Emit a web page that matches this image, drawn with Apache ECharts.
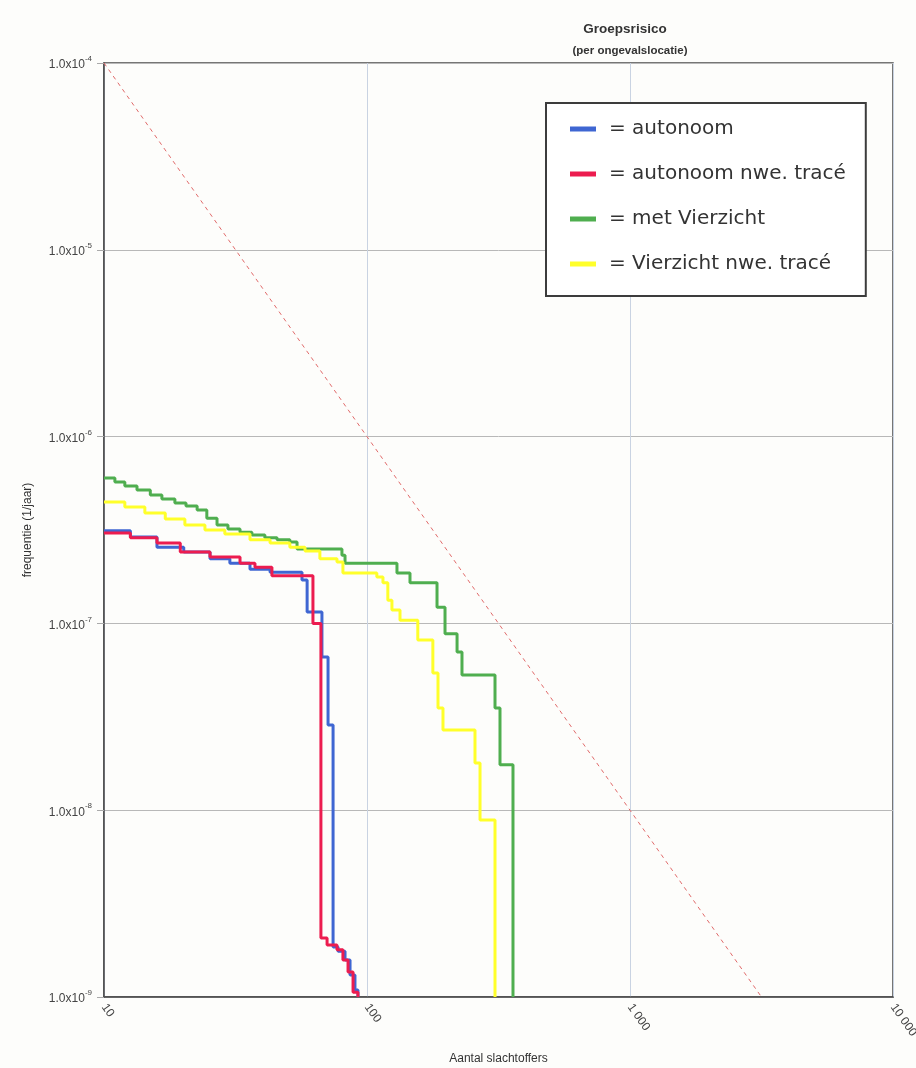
<!DOCTYPE html>
<html>
<head>
<meta charset="utf-8">
<script src="https://cdn.jsdelivr.net/npm/echarts@6/dist/echarts.min.js"></script>
<style>
html,body{margin:0;padding:0;background:#fdfdfb;}
#chart{width:916px;height:1068px;}
</style>
</head>
<body>
<div id="chart"></div>
<script>
// ---- data ----
const titleText = 'Groepsrisico';
const subtitleText = '(per ongevalslocatie)';
const xAxisName = 'Aantal slachtoffers';
const yAxisName = 'frequentie (1/jaar)';
const seriesNames = ['autonoom', 'autonoom nwe. tracé', 'met Vierzicht', 'Vierzicht nwe. tracé'];
const xTickValues = [10, 100, 1000, 10000];
const xTickLabels = ['10', '100', '1 000', '10 000'];
const yTickExponents = [-9, -8, -7, -6, -5, -4];

const autonoomN = [10, 12.6, 15.9, 20.1, 25.3, 30.1, 35.9, 42.8, 56.6, 59.2, 67.4, 71.1, 74.3, 77.6, 82.5, 86.2, 90.0, 92.4];
const autonoomF = [3.13e-7, 2.90e-7, 2.56e-7, 2.41e-7, 2.22e-7, 2.10e-7, 1.95e-7, 1.88e-7, 1.71e-7, 1.15e-7, 6.61e-8, 2.86e-8, 1.85e-9, 1.76e-9, 1.58e-9, 1.31e-9, 1.09e-9, 1e-9];

const autonoomNweN = [10, 12.6, 15.9, 19.5, 25.3, 32.9, 37.5, 43.5, 62.3, 66.8, 70.5, 76.9, 81.0, 84.7, 88.5, 92.4];
const autonoomNweF = [3.05e-7, 2.87e-7, 2.69e-7, 2.41e-7, 2.27e-7, 2.10e-7, 2.00e-7, 1.80e-7, 1.00e-7, 2.07e-9, 1.90e-9, 1.79e-9, 1.58e-9, 1.36e-9, 1.06e-9, 1e-9];

const metVierzichtN = [10, 11.0, 12.0, 13.35, 15.0, 16.6, 18.6, 20.5, 22.6, 24.6, 26.9, 29.6, 32.9, 36.5, 40.9, 45.5, 50.9, 54.2, 80.3, 82.5, 130, 145.7, 184.6, 198, 220, 229.7, 306.7, 320.4, 359];
const metVierzichtF = [6.0e-7, 5.71e-7, 5.44e-7, 5.18e-7, 4.87e-7, 4.63e-7, 4.41e-7, 4.25e-7, 4.05e-7, 3.66e-7, 3.36e-7, 3.20e-7, 3.08e-7, 2.97e-7, 2.87e-7, 2.80e-7, 2.73e-7, 2.50e-7, 2.32e-7, 2.10e-7, 1.86e-7, 1.65e-7, 1.22e-7, 8.8e-8, 7.03e-8, 5.29e-8, 3.52e-8, 1.75e-8, 1e-9];

const vierzichtNweN = [10, 12.0, 14.3, 17.1, 20.3, 24.2, 28.8, 35.9, 42.8, 50.9, 58.1, 66.2, 76.9, 81.0, 109, 115, 120, 124.4, 133.5, 156, 178, 186.2, 194.5, 257.4, 269, 306.7];
const vierzichtNweF = [4.47e-7, 4.20e-7, 3.90e-7, 3.62e-7, 3.36e-7, 3.16e-7, 3.01e-7, 2.80e-7, 2.69e-7, 2.56e-7, 2.44e-7, 2.22e-7, 2.13e-7, 1.86e-7, 1.77e-7, 1.65e-7, 1.33e-7, 1.18e-7, 1.04e-7, 8.15e-8, 5.43e-8, 3.52e-8, 2.69e-8, 1.79e-8, 8.87e-9, 1e-9];

const normLineN = [10, 3162];
const normLineF = [1e-4, 1e-9];

const colors = ['#3f66d2', '#ec1c4f', '#4fae4f', '#ffff2a'];

function zip(a, b) { return a.map((v, i) => [v, b[i]]); }

const chart = echarts.init(document.getElementById('chart'), null, {renderer: 'canvas'});
const font = 'Liberation Sans, Arial, sans-serif';

const option = {
  backgroundColor: '#fdfdfb',
  animation: false,
  title: [
    {text: titleText, left: 620, top: 17, textAlign: 'center',
     textStyle: {fontFamily: font, fontSize: 13.5, fontWeight: 'bold', color: '#333'}},
    {text: subtitleText, left: 625, top: 40, textAlign: 'center',
     textStyle: {fontFamily: font, fontSize: 11.5, fontWeight: 'bold', color: '#333'}}
  ],
  grid: {left: 104, right: 23, top: 63, bottom: 71, containLabel: false, outerBoundsMode: 'none',
         show: true, borderColor: '#4a4a4a', borderWidth: 1.5, backgroundColor: 'transparent'},
  legend: {
    data: seriesNames,
    orient: 'vertical',
    left: 546, top: 103,
    backgroundColor: '#ffffff',
    borderColor: '#3c3c3c', borderWidth: 2,
    padding: [14, 20, 20, 24],
    itemGap: 21,
    itemWidth: 26, itemHeight: 5,
    icon: 'rect',
    formatter: n => '= ' + n,
    textStyle: {fontFamily: 'DejaVu Sans, sans-serif', fontSize: 20, color: '#333', lineHeight: 24, padding: [0,0,0,8]}
  },
  xAxis: {
    type: 'log', logBase: 10, min: 10, max: 10000,
    name: xAxisName, nameLocation: 'middle', nameGap: 56,
    nameTextStyle: {fontFamily: font, fontSize: 12, color: '#333'},
    axisLine: {show: true, lineStyle: {color: '#4a4a4a', width: 1.5}},
    axisTick: {show: false},
    axisLabel: {
      rotate: -55, margin: 8, fontFamily: font, fontSize: 12, color: '#444',
      formatter: v => { const i = xTickValues.findIndex(t => Math.abs(t - v) / t < 1e-6); return i >= 0 ? xTickLabels[i] : ''; }
    },
    splitLine: {show: true, lineStyle: {color: '#c9d3e2', width: 1}},
    minorTick: {show: false}
  },
  yAxis: {
    type: 'log', logBase: 10, min: 1e-9, max: 1e-4,
    name: yAxisName, nameLocation: 'middle', nameGap: 70, nameRotate: 90,
    nameTextStyle: {fontFamily: font, fontSize: 12, color: '#333'},
    axisLine: {show: true, lineStyle: {color: '#4a4a4a', width: 1.5}},
    axisTick: {show: true, length: 7, lineStyle: {color: '#aaa'}},
    axisLabel: {
      margin: 12, fontFamily: font, color: '#444',
      formatter: v => { const e = Math.round(Math.log10(v)); return yTickExponents.includes(e) ? '{b|1.0x10}{s|' + e + '}' : ''; },
      rich: {
        b: {fontFamily: font, fontSize: 12, color: '#444', lineHeight: 16, verticalAlign: 'bottom'},
        s: {fontFamily: font, fontSize: 8, color: '#444', lineHeight: 16, verticalAlign: 'top'}
      }
    },
    splitLine: {show: true, lineStyle: {color: '#b8b8b8', width: 1}}
  },
  series: [
    {name: 'norm', type: 'line', data: zip(normLineN, normLineF), symbol: 'none', silent: true,
     lineStyle: {color: '#e06a6a', width: 1, type: [4, 4]}, z: 1},
    {name: seriesNames[2], type: 'line', step: 'end', data: zip(metVierzichtN, metVierzichtF), symbol: 'none',
     itemStyle: {color: colors[2]}, lineStyle: {color: colors[2], width: 3}, z: 2},
    {name: seriesNames[3], type: 'line', step: 'end', data: zip(vierzichtNweN, vierzichtNweF), symbol: 'none',
     itemStyle: {color: colors[3]}, lineStyle: {color: colors[3], width: 3}, z: 3},
    {name: seriesNames[0], type: 'line', step: 'end', data: zip(autonoomN, autonoomF), symbol: 'none',
     itemStyle: {color: colors[0]}, lineStyle: {color: colors[0], width: 3}, z: 4},
    {name: seriesNames[1], type: 'line', step: 'end', data: zip(autonoomNweN, autonoomNweF), symbol: 'none',
     itemStyle: {color: colors[1]}, lineStyle: {color: colors[1], width: 3}, z: 5}
  ]
};
chart.setOption(option);
</script>
</body>
</html>
